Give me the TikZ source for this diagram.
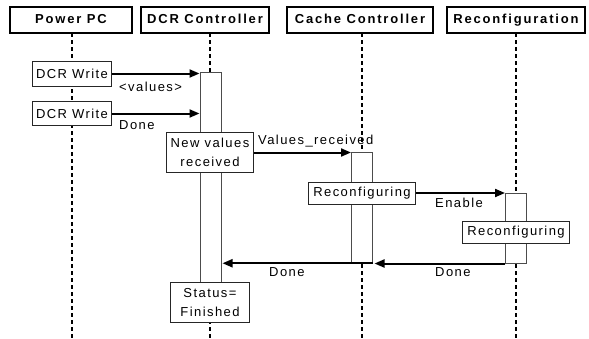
\documentclass[tikz,border=0pt]{standalone}
\usepackage{fontspec}
\setmainfont{Liberation Sans}
\newfontfamily\msgfont[LetterSpace=11]{Liberation Sans}
\newfontfamily\headfont[LetterSpace=14]{Liberation Sans}
\usetikzlibrary{arrows.meta}

\tikzset{
  head/.style={draw, line width=2pt, inner sep=0pt, minimum height=26pt,
    text height=9.5pt, text depth=2.7pt,
    font=\headfont\bfseries\fontsize{13}{15}\selectfont},
  lifeline/.style={line width=2pt, dash pattern=on 4pt off 3pt},
  activ/.style={draw=black!70, fill=white, line width=1pt, inner sep=0pt, minimum width=21pt},
  note/.style={draw=black!85, fill=white, line width=1pt, inner sep=0pt, align=center,
    font=\msgfont\fontsize{13}{19.5}\selectfont},
  msg/.style={line width=2pt, -{Triangle[length=10pt,width=8pt]}},
  msglabel/.style={inner sep=0pt, anchor=west, font=\msgfont\fontsize{13}{15}\selectfont}
}

\begin{document}
\begin{tikzpicture}[x=1pt,y=-1pt]
  \useasboundingbox (0,0) rectangle (589,338);

  \node[head, minimum width=122pt] (H_ppc) at (71,20) {Power PC};
  \node[head, minimum width=128pt] (H_dcr) at (205,20) {DCR Controller};
  \node[head, minimum width=146pt] (H_cc) at (360,20) {Cache Controller};
  \node[head, minimum width=138pt] (H_rc) at (516,20) {Reconfiguration};

  % lifelines
  \coordinate (L_ppc) at (72,33);  \coordinate (E_ppc) at (72,338);
  \coordinate (L_dcr) at (210,33); \coordinate (E_dcr) at (210,338);
  \coordinate (L_cc) at (362,33);  \coordinate (E_cc) at (362,338);
  \coordinate (L_rc) at (516,33);  \coordinate (E_rc) at (516,338);
  \draw[lifeline] (L_ppc) -- (E_ppc);
  \draw[lifeline] (L_dcr) -- (E_dcr);
  \draw[lifeline] (L_cc) -- (E_cc);
  \draw[lifeline] (L_rc) -- (E_rc);

  %%%%%%%%%%%%%%%%%%%%
  \node[activ, minimum height=210pt] (A_dcr) at (210.5,177.5) {};
  \node[activ, minimum height=110.5pt] (A_cc) at (362,207.5) {};
  \node[activ, minimum height=70pt] (A_rc) at (516,228) {};

  \node[note, minimum width=79pt, minimum height=25pt] (N_w1) at (72,73.5) {DCR Write};
  \node[note, minimum width=79pt, minimum height=24pt] (N_w2) at (72,113.5) {DCR Write};
  \node[note, minimum width=87pt, minimum height=40pt] (N_nv) at (210,152.5) {New values\\received};
  \node[note, minimum width=107pt, minimum height=22pt] (N_rc1) at (362,193) {Reconfiguring};
  \node[note, minimum width=107pt, minimum height=22pt] (N_rc2) at (516,232) {Reconfiguring};
  \node[note, minimum width=79pt, minimum height=40pt] (N_st) at (210,302.5) {Status=\\Finished};

  \draw[msg] (N_w1.east) -- (N_w1.east -| A_dcr.west);
  \draw[msg] (N_w2.east) -- (N_w2.east -| A_dcr.west);
  \draw[msg] (N_nv.east) -- (N_nv.east -| A_cc.west);
  \draw[msg] (N_rc1.east) -- (N_rc1.east -| A_rc.west);
  \draw[msg, shorten >=1.5pt] (A_rc.south west) -- (A_rc.south west -| A_cc.east);
  \draw[msg, shorten >=1pt] (A_cc.south east) -- (A_cc.south east -| A_dcr.east);

  \node[msglabel] (T_val) at (119,86.5) {<values>};
  \node[msglabel] (T_done1) at (119,125) {Done};
  \node[msglabel] (T_recv) at (258,141) {Values\_received};
  \node[msglabel] (T_en) at (435,203) {Enable};
  \node[msglabel] (T_done2) at (269,272.5) {Done};
  \node[msglabel] (T_done3) at (435,272.5) {Done};
\end{tikzpicture}
\end{document}
